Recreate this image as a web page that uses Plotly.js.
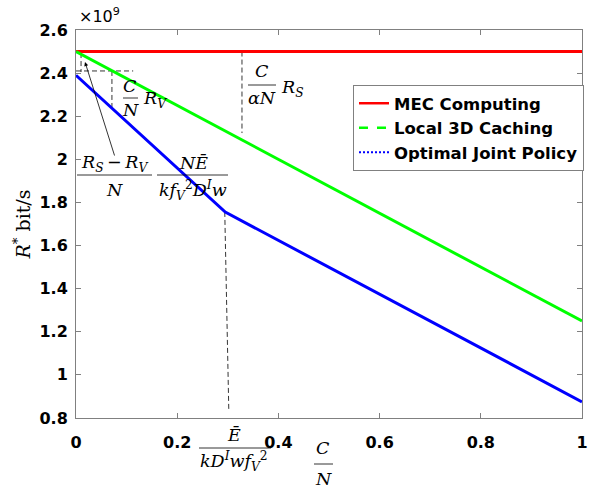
<!DOCTYPE html>
<html>
<head>
<meta charset="utf-8">
<script src="https://cdn.plot.ly/plotly-3.0.1.min.js"></script>
<style>
  html, body { margin: 0; padding: 0; background: #fff; }
  #plotDiv { width: 607px; height: 493px; }
</style>
</head>
<body>
<div id="plotDiv"></div>
<script>
/* =========================
   Data (rates in units of 1e9 bit/s, x = C/N)
========================= */

const seriesNames = ['MEC Computing', 'Local 3D Caching', 'Optimal Joint Policy'];
const seriesColors = ['#ff0000', '#00ff00', '#0000ff'];

const mecX = [0, 1];
const mecRate = [2.5, 2.5];

const cacheX = [0, 1];
const cacheRate = [2.5, 1.25];

const jointX = [0, 0.295, 1];
const jointRate = [2.39, 1.755, 0.875];

// dashed guide lines: [x0, x1], [y0, y1]
const guideLines = [
    { x: [0, 0.113], y: [2.41, 2.41] },
    { x: [0.01, 0.01], y: [2.493, 2.405] },
    { x: [0.071, 0.071], y: [2.41, 2.243] },
    { x: [0.328, 0.328], y: [2.5, 2.122] },
    { x: [0.294, 0.302], y: [1.756, 0.833] },
];

const xTickVals = [0, 0.2, 0.4, 0.6, 0.8, 1];
const xTickText = ['0', '0.2', '0.4', '0.6', '0.8', '1'];
const yTickVals = [0.8, 1, 1.2, 1.4, 1.6, 1.8, 2, 2.2, 2.4, 2.6];
const yTickText = ['0.8', '1', '1.2', '1.4', '1.6', '1.8', '2', '2.2', '2.4', '2.6'];

/* =========================
   Layout helpers
========================= */

const MARGIN = { l: 76, r: 25, t: 30, b: 75 };
const PLOT_W = 607 - MARGIN.l - MARGIN.r;
const PLOT_H = 493 - MARGIN.t - MARGIN.b;
const PX = px => (px - MARGIN.l) / PLOT_W;
const PY = py => (493 - MARGIN.b - py) / PLOT_H;

const MATH_FONT = { family: 'DejaVu Serif', size: 17.5, color: '#000', weight: 'normal' };
const TICK_FONT = { family: 'DejaVu Sans', size: 16, color: '#000', weight: 'bold' };
const AXIS_GREY = '#808080';

function label(px, py, text, xanchor) {
    return {
        xref: 'paper', yref: 'paper',
        x: PX(px), y: PY(py),
        text,
        showarrow: false,
        xanchor: xanchor || 'center',
        yanchor: 'middle',
        font: MATH_FONT,
    };
}

// a stacked fraction: numerator, bar and denominator (pixel positions)
function fraction(cx, numY, barY, denY, x0, x1, num, den, anns, shapes) {
    anns.push(label(cx, numY, num));
    anns.push(label(cx, denY, den));
    shapes.push({
        type: 'line', xref: 'paper', yref: 'paper',
        x0: PX(x0), x1: PX(x1), y0: PY(barY), y1: PY(barY),
        line: { color: '#000', width: 0.8 },
    });
}

const I = s => `<i>${s}</i>`;
const annotations = [];
const shapes = [];

fraction(130, 86, 98, 110, 123, 138, I('C'), I('N'), annotations, shapes);
annotations.push(label(141, 99, I('R') + '<sub>' + I('V') + '</sub>', 'left'));

fraction(262, 71, 85, 98, 248, 276, I('C'), I('αN'), annotations, shapes);
annotations.push(label(279, 88, I('R') + '<sub>' + I('S') + '</sub>', 'left'));

fraction(114, 163, 175, 190, 77, 152,
    I('R') + '<sub>' + I('S') + '</sub>\u2009−\u2009' + I('R') + '<sub>' + I('V') + '</sub>',
    I('N'), annotations, shapes);

fraction(193, 163, 175, 190, 157, 228,
    I('NĒ'),
    I('kf') + '<sub>' + I('V') + '</sub><sup>2</sup>' + I('D') + '<sup>' + I('I') + '</sup>' + I('w'),
    annotations, shapes);

fraction(234, 435, 448, 461, 199, 271,
    I('Ē'),
    I('kD') + '<sup>' + I('I') + '</sup>' + I('wf') + '<sub>' + I('V') + '</sub><sup>2</sup>',
    annotations, shapes);

// x axis title C/N
fraction(323, 448, 464, 479, 314, 333, I('C'), I('N'), annotations, shapes);

// arrow pointing at the start of the curves
annotations.push({
    xref: 'paper', yref: 'paper',
    x: PX(85), y: PY(62),
    ax: 30, ay: 95,
    text: '',
    showarrow: true,
    arrowhead: 2,
    arrowsize: 1,
    arrowwidth: 0.8,
    arrowcolor: '#000',
});

// exponent label
annotations.push({
    xref: 'paper', yref: 'paper',
    x: PX(77), y: PY(28),
    xanchor: 'left', yanchor: 'bottom',
    text: '×10<sup>9</sup>',
    showarrow: false,
    font: { family: 'DejaVu Sans', size: 16, color: '#000', weight: 'normal' },
});

/* =========================
   Traces
========================= */

const guideTraces = guideLines.map(g => ({
    type: 'scatter', mode: 'lines',
    x: g.x, y: g.y,
    line: { color: '#000', width: 0.8, dash: '5px,3px' },
    showlegend: false, hoverinfo: 'skip',
}));

const curveTraces = [
    [mecX, mecRate],
    [cacheX, cacheRate],
    [jointX, jointRate],
].map(([x, y], i) => ({
    type: 'scatter', mode: 'lines',
    x, y,
    line: { color: seriesColors[i], width: 3 },
    showlegend: false, hoverinfo: 'skip',
}));

// the legend uses its own line styles (solid, dashed, dotted)
const legendDash = ['solid', '9px,9px', '2px,2px'];
const legendWidth = [2.5, 2.5, 2];
const legendTraces = seriesNames.map((name, i) => ({
    type: 'scatter', mode: 'lines',
    x: [null], y: [null],
    name,
    line: { color: seriesColors[i], width: legendWidth[i], dash: legendDash[i] },
    hoverinfo: 'skip',
}));

const layout = {
    width: 607,
    height: 493,
    margin: MARGIN,
    paper_bgcolor: '#fff',
    plot_bgcolor: '#fff',
    font: { family: 'DejaVu Sans', size: 16, color: '#000' },
    xaxis: {
        range: [0, 1],
        tickvals: xTickVals,
        ticktext: xTickText,
        ticks: 'inside',
        ticklen: 5,
        tickcolor: AXIS_GREY,
        showline: true,
        linecolor: AXIS_GREY,
        linewidth: 1,
        mirror: 'ticks',
        showgrid: false,
        zeroline: false,
        ticklabelstandoff: 10,
        tickfont: TICK_FONT,
    },
    yaxis: {
        range: [0.8, 2.6],
        tickvals: yTickVals,
        ticktext: yTickText,
        ticks: 'inside',
        ticklen: 5,
        tickcolor: AXIS_GREY,
        showline: true,
        linecolor: AXIS_GREY,
        linewidth: 1,
        mirror: 'ticks',
        showgrid: false,
        zeroline: false,
        ticklabelstandoff: 4,
        tickfont: TICK_FONT,
        title: {
            text: I('R') + '<sup>*</sup> bit/s',
            font: { family: 'DejaVu Serif', size: 19, color: '#000', weight: 'normal' },
            standoff: 3,
        },
    },
    legend: {
        x: PX(353),
        y: PY(85),
        xanchor: 'left',
        yanchor: 'top',
        bgcolor: '#fff',
        bordercolor: AXIS_GREY,
        borderwidth: 1,
        font: { family: 'DejaVu Sans', size: 16.5, color: '#000', weight: 'bold' },
    },
    annotations,
    shapes,
    showlegend: true,
    hovermode: false,
};

Plotly.newPlot('plotDiv', [...guideTraces, ...curveTraces, ...legendTraces], layout,
    { displayModeBar: false, staticPlot: true });
</script>
</body>
</html>
